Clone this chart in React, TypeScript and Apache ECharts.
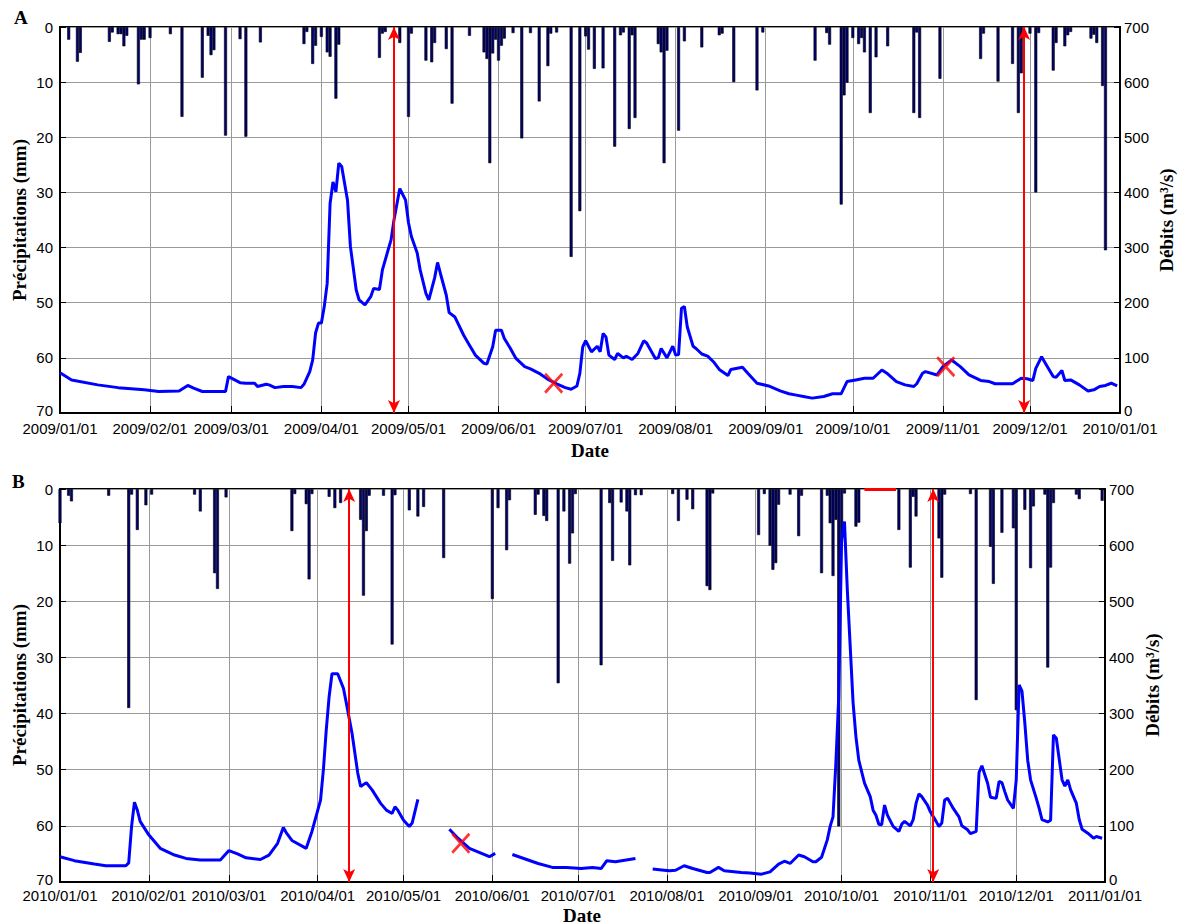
import React, { useEffect, useRef } from 'react';
import * as echarts from 'echarts';

// Day index = days since 1 January of the panel's year.
// Panel A (2009) precipitation (mm): [day, mm]
const rainA: [number, number][] = [
  [3,2.3],[6,6.3],[7,4.7],[17,2.7],[18,1.0],[20,1.3],[21,1.3],[22,3.5],[23,1.6],[27,10.4],[28,2.3],[29,2.3],[31,2.0],[38,1.3],[42,16.3],[49,9.2],[51,1.6],[52,5.1],[53,4.2],[57,19.7],[62,2.2],[64,19.9],[69,2.8],[84,3.1],[85,0.9],[87,6.7],[88,3.4],[90,1.8],[92,4.6],[93,5.4],[95,13.0],[96,3.2],[110,5.6],[111,1.2],[112,0.9],[117,2.9],[120,16.3],[121,1.2],[126,6.1],[128,6.4],[129,2.9],[133,4.0],[135,13.9],[141,1.6],[146,4.6],[147,5.8],[148,24.7],[149,4.8],[150,2.3],[151,6.1],[152,3.4],[153,2.1],[156,1.1],[159,20.2],[162,1.1],[165,13.5],[168,7.1],[169,1.2],[171,1.0],[176,41.7],[179,33.4],[181,1.7],[182,4.1],[184,7.6],[187,7.5],[191,21.7],[193,1.5],[194,1.0],[196,18.5],[197,1.5],[198,16.5],[206,3.1],[207,4.6],[208,24.7],[209,4.3],[213,18.8],[215,2.6],[221,3.7],[227,1.5],[228,1.2],[232,10.0],[240,11.5],[242,1.0],[260,6.1],[264,1.1],[265,3.2],[269,32.2],[270,12.4],[271,10.1],[273,2.0],[275,3.1],[276,2.0],[277,4.6],[279,15.6],[281,5.5],[285,3.5],[294,15.6],[295,1.0],[296,16.5],[303,9.4],[317,5.8],[318,1.2],[323,9.9],[328,6.7],[330,15.6],[331,8.4],[334,1.2],[336,30.0],[337,1.1],[342,7.9],[343,2.9],[346,3.5],[347,1.5],[348,0.9],[355,2.1],[356,1.4],[357,2.9],[359,10.7],[360,40.5]
];

// Panel A discharge (m³/s): [day, Q]
const flowA: [number, number][] = [
  [0,73],[4,60],[13,51],[20,46],[29,42],[34,39],[41,40],[44,50],[46,45],[49,39],[57,39],[58,66],[62,55],[64,54],[67,54],[68,48],[71,52],[72,51],[74,46],[77,48],[80,48],[83,46],[84,52],[86,75],[87,96],[88,145],[89,163],[90,163],[91,193],[92,235],[93,380],[94,419],[95,401],[96,453],[97,447],[99,386],[100,302],[102,223],[103,205],[105,196],[107,211],[108,226],[110,224],[111,259],[113,296],[114,314],[115,350],[117,407],[119,386],[120,345],[121,320],[123,290],[124,260],[126,217],[127,205],[129,245],[130,273],[131,253],[133,214],[134,182],[136,174],[139,141],[141,123],[143,105],[146,90],[147,89],[149,120],[150,150],[152,150],[153,135],[155,118],[157,99],[160,84],[162,80],[165,72],[168,61],[171,53],[174,46],[176,43],[178,49],[179,72],[180,120],[181,131],[183,111],[185,121],[186,111],[187,144],[188,138],[189,105],[191,97],[192,108],[194,100],[195,103],[197,97],[199,108],[201,131],[202,127],[205,99],[206,100],[207,117],[209,100],[211,121],[212,105],[213,106],[214,190],[215,193],[216,156],[218,121],[219,117],[221,107],[223,103],[225,93],[227,79],[230,68],[231,79],[235,83],[237,71],[240,54],[244,49],[248,40],[251,35],[254,32],[256,30],[259,27],[263,30],[266,35],[269,35],[271,57],[274,60],[277,63],[280,63],[283,78],[285,71],[288,57],[291,51],[294,48],[295,53],[297,72],[298,75],[302,69],[304,84],[307,96],[310,84],[313,69],[317,59],[320,57],[322,53],[328,53],[331,63],[333,62],[335,59],[336,81],[338,102],[340,84],[342,66],[343,65],[345,77],[346,59],[348,60],[351,51],[354,40],[356,42],[358,48],[360,50],[362,54],[364,49]
];

// Panel B (2010) precipitation (mm): [day, mm]
const rainB: [number, number][] = [
  [0,6.1],[3,1.2],[4,2.2],[17,1.2],[24,39.0],[25,1.0],[27,7.3],[30,2.9],[32,1.0],[47,1.0],[49,4.0],[54,15.0],[55,17.8],[58,1.5],[81,7.5],[82,0.9],[86,2.7],[87,16.1],[88,0.9],[94,1.4],[96,3.4],[98,2.5],[105,5.5],[106,19.0],[107,7.5],[108,1.2],[113,1.2],[116,27.7],[117,1.1],[122,3.8],[125,4.9],[127,3.2],[134,12.3],[151,19.6],[153,3.4],[156,10.9],[157,2.0],[166,4.6],[167,1.0],[169,4.8],[170,5.7],[174,34.6],[176,4.0],[178,13.3],[179,7.9],[180,0.9],[189,31.4],[192,2.5],[193,12.8],[196,2.4],[198,4.0],[199,13.6],[201,1.1],[203,1.1],[214,0.9],[216,5.7],[219,1.9],[221,3.6],[226,17.3],[227,18.0],[228,0.8],[244,8.2],[246,0.9],[248,10.1],[249,14.4],[250,13.2],[251,2.8],[255,1.0],[258,8.4],[259,1.2],[266,15.0],[268,1.2],[269,6.1],[270,15.5],[271,5.5],[272,60.1],[273,9.4],[274,0.8],[278,6.7],[279,6.0],[293,7.3],[297,14.0],[298,1.4],[299,4.9],[307,8.8],[308,15.8],[309,1.0],[318,0.9],[320,37.6],[325,10.3],[326,16.9],[329,7.8],[333,7.0],[334,39.4],[337,3.7],[339,14.1],[340,3.1],[344,1.0],[345,31.8],[346,14.0],[347,2.5],[355,1.0],[356,1.8],[364,2.1]
];

// Panel B discharge (m³/s): [day, Q]; '-' marks a gap in the record
const flowB: [number, number | string][] = [
  [0,45],[5,38],[12,32],[16,29],[23,29],[24,34],[25,99],[26,142],[27,128],[28,108],[31,84],[35,60],[40,48],[44,42],[49,39],[56,39],[59,56],[62,50],[65,43],[70,40],[73,48],[76,69],[78,97],[79,88],[81,74],[86,60],[88,90],[91,146],[92,200],[93,271],[94,330],[95,371],[97,371],[99,345],[100,319],[102,265],[104,194],[105,170],[107,177],[109,164],[112,140],[114,128],[116,122],[117,134],[118,128],[120,110],[122,99],[123,105],[125,147],
  [130,'-'],
  [136,94],[139,78],[143,60],[150,45],[152,51],
  [155,'-'],
  [158,49],[167,33],[172,26],[177,26],[182,24],[186,26],[189,24],[191,38],[194,36],[201,42],
  [204,'-'],
  [207,23],[211,21],[213,20],[215,21],[218,29],[221,24],[226,17],[227,17],[230,26],[232,20],[238,17],[241,16],[245,14],[248,18],[251,32],[253,37],[255,33],[258,48],[260,45],[263,36],[264,36],[266,44],[268,75],[269,99],[270,116],[271,212],[272,330],[273,610],[274,642],[275,520],[276,420],[277,320],[278,259],[279,217],[281,176],[283,152],[284,128],[285,119],[286,103],[287,102],[288,137],[289,119],[291,99],[293,90],[294,103],[295,108],[297,100],[298,111],[299,140],[300,157],[301,152],[303,137],[304,125],[306,108],[307,99],[308,105],[309,146],[310,149],[312,131],[314,116],[315,100],[317,93],[318,86],[320,90],[321,195],[322,207],[324,176],[325,151],[327,149],[328,179],[329,177],[330,161],[331,146],[333,131],[334,182],[335,351],[336,340],[337,283],[338,217],[339,182],[341,149],[342,131],[343,111],[345,107],[346,110],[347,262],[348,256],[350,182],[351,171],[352,182],[353,164],[355,140],[356,111],[357,94],[359,87],[361,78],[362,81],[364,78]
];

// Red vertical double arrows (day index)
const arrowsA = [115, 332];
const arrowsB = [101, 305];
// Red crosses [day, Q]
const crossesA: [number, number][] = [[170, 54], [305, 84]];
const crossesB: [number, number][] = [[140, 69]];
// Red bar at the top of panel B [start day, end day]
const topMarkB: [number, number] = [281, 292];

const leftTicks = { min: 0, max: 70, interval: 10 };
const rightTicks = { min: 0, max: 700, interval: 100 };

function makeDays(year: number): string[] {
  const out: string[] = [];
  const d = new Date(Date.UTC(year, 0, 1));
  const end = Date.UTC(year + 1, 0, 1);
  while (d.getTime() <= end) {
    const m = String(d.getUTCMonth() + 1).padStart(2, '0');
    const dd = String(d.getUTCDate()).padStart(2, '0');
    out.push(`${d.getUTCFullYear()}/${m}/${dd}`);
    d.setUTCDate(d.getUTCDate() + 1);
  }
  return out;
}
const daysA = makeDays(2009);
const daysB = makeDays(2010);

const SANS = "'Liberation Sans', Arial, sans-serif";
const SERIF = "'Liberation Serif', 'Times New Roman', serif";
const GRID_COLOR = '#9a9a9a';
const X_PATH = 'path://M0,2L2,0L10,8L18,0L20,2L12,10L20,18L18,20L10,12L2,20L0,18L8,10Z';

const monthStart = (_i: number, v: string) => typeof v === 'string' && v.slice(8) === '01';

function xAxisCfg(gridIndex: number, data: string[], margin: number) {
  return {
    type: 'category', gridIndex, data, boundaryGap: false,
    axisLine: { show: true, onZero: false, lineStyle: { color: '#000', width: 2 } },
    axisTick: { show: true, inside: true, length: 7, interval: monthStart, lineStyle: { color: '#000', width: 1 } },
    axisLabel: { interval: monthStart, margin, fontSize: 15, lineHeight: 14, fontFamily: SANS, color: '#000', hideOverlap: false },
    splitLine: { show: true, interval: monthStart, lineStyle: { color: GRID_COLOR, width: 1 } },
  };
}
// bottom-most value label is nudged up slightly so it does not touch the date labels
function yLabel(bottomValue: number, margin: number) {
  return {
    margin, fontSize: 15, lineHeight: 12, fontFamily: SANS, color: '#000',
    formatter: (v: number) => (v === bottomValue ? `{b|${v}}` : `${v}`),
    rich: { b: { fontSize: 15, fontFamily: SANS, color: '#000', lineHeight: 12, padding: [0, 0, 5, 0] } },
  };
}
function yLeft(gridIndex: number) {
  return {
    type: 'value', gridIndex, position: 'left', inverse: true, ...leftTicks,
    axisLine: { show: true, onZero: false, lineStyle: { color: '#000', width: 2 } },
    axisTick: { show: true, inside: true, length: 6, lineStyle: { color: '#000' } },
    axisLabel: yLabel(leftTicks.max, 7),
    splitLine: { show: true, lineStyle: { color: GRID_COLOR, width: 1 } },
  };
}
function yRight(gridIndex: number) {
  return {
    type: 'value', gridIndex, position: 'right', ...rightTicks,
    axisLine: { show: true, onZero: false, lineStyle: { color: '#000', width: 2 } },
    axisTick: { show: true, inside: true, length: 6, lineStyle: { color: '#000' } },
    axisLabel: yLabel(rightTicks.min, 4),
    splitLine: { show: false },
  };
}

function panelSeries(xi: number, yl: number, yr: number, rain: any[], flow: any[], arrows: number[], crosses: any[], extraMarks: any[]) {
  const arrowData = arrows.map((d) => [{ coord: [d, 0] }, { coord: [d, 700] }]);
  return [
    {
      type: 'bar', xAxisIndex: xi, yAxisIndex: yl, data: rain, barWidth: 3,
      itemStyle: { color: '#00006e', borderColor: '#000', borderWidth: 0.6 },
      silent: true, z: 2,
    },
    {
      type: 'line', xAxisIndex: xi, yAxisIndex: yr, data: flow, showSymbol: false, symbol: 'none',
      connectNulls: false, lineStyle: { color: '#0000ff', width: 3 }, z: 3, silent: true,
      markLine: {
        silent: true, animation: false,
        symbol: ['arrow', 'arrow'], symbolSize: [9, 13],
        label: { show: false },
        lineStyle: { color: '#ff0000', width: 2, type: 'solid' },
        emphasis: { disabled: true },
        data: [...arrowData, ...extraMarks],
      },
    },
    {
      type: 'scatter', xAxisIndex: xi, yAxisIndex: yr, data: crosses, symbol: X_PATH, symbolSize: [19, 21],
      itemStyle: { color: '#ff0000' }, z: 4, silent: true,
    },
  ];
}

function textEl(text: string, x: number, y: number, opts: any = {}) {
  return {
    type: 'text', x, y, rotation: opts.rotation || 0, silent: true,
    style: {
      text, fill: '#000', fontFamily: SERIF, fontWeight: 'bold', fontSize: opts.size || 19,
      align: opts.align || 'center', verticalAlign: opts.valign || 'middle',
    },
  };
}

export default function App() {
  const ref = useRef<HTMLDivElement>(null);
  useEffect(() => {
    if (!ref.current) return;
    const chart = echarts.init(ref.current, null, { renderer: 'svg' });
    const topMarkData = [[
      { coord: [topMarkB[0], 700], symbol: 'none', lineStyle: { width: 3, color: '#ff0000' } },
      { coord: [topMarkB[1], 700], symbol: 'none' },
    ]];
    chart.setOption({
      animation: false,
      backgroundColor: '#fff',
      grid: [
        { left: 60, top: 27, width: 1060, height: 386, show: true, borderColor: '#000', borderWidth: 2, backgroundColor: 'transparent', containLabel: false, outerBoundsMode: 'none' },
        { left: 60, top: 489, width: 1045, height: 393, show: true, borderColor: '#000', borderWidth: 2, backgroundColor: 'transparent', containLabel: false, outerBoundsMode: 'none' },
      ],
      xAxis: [xAxisCfg(0, daysA, 8), xAxisCfg(1, daysB, 6)],
      yAxis: [yLeft(0), yRight(0), yLeft(1), yRight(1)],
      series: [
        ...panelSeries(0, 0, 1, rainA, flowA, arrowsA, crossesA, []),
        ...panelSeries(1, 2, 3, rainB, flowB, arrowsB, crossesB, topMarkData),
      ],
      graphic: [
        textEl('A', 14, 8, { align: 'left', valign: 'top', size: 19 }),
        textEl('B', 12, 472, { align: 'left', valign: 'top', size: 19 }),
        textEl('Précipitations (mm)', 19, 220, { rotation: Math.PI / 2 }),
        textEl('Précipitations (mm)', 19, 685, { rotation: Math.PI / 2 }),
        textEl('Débits (m³/s)', 1166, 220, { rotation: Math.PI / 2 }),
        textEl('Débits (m³/s)', 1152, 685, { rotation: Math.PI / 2 }),
        textEl('Date', 590, 450),
        textEl('Date', 582, 915),
      ],
    });
    return () => chart.dispose();
  }, []);
  return <div ref={ref} style={{ position: 'absolute', left: 0, top: 0, width: 1183, height: 924 }} />;
}
